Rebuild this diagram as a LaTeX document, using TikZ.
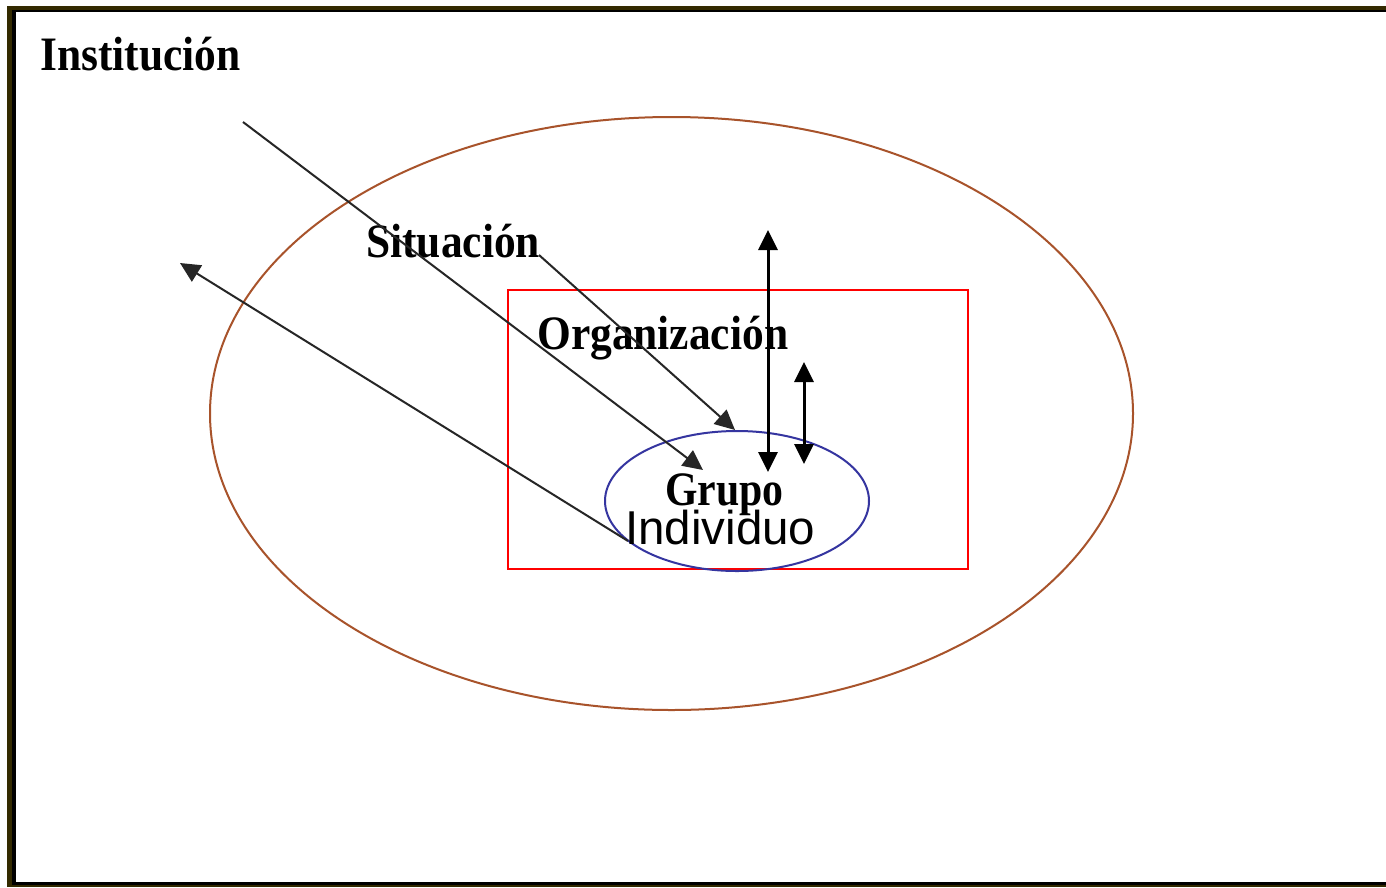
\documentclass[tikz,border=0pt]{standalone}
\usepackage{fontspec}
\setmainfont{Liberation Serif}
\newfontfamily\labsans{Liberation Sans}
\usetikzlibrary{arrows.meta,shapes.geometric}
\definecolor{frameolive}{HTML}{332A00}
\definecolor{ellbrown}{HTML}{A8532B}
\definecolor{ellblue}{HTML}{3535A0}
\newcommand{\narrowtxt}[1]{\scalebox{0.905}[1]{#1}}
\tikzset{
  serlab/.style={anchor=base west, inner sep=0pt, font=\fontsize{48}{54}\selectfont\bfseries},
  thinarrow/.style={draw=black!85, line width=2pt, -{Triangle[length=20pt,width=19pt]}},
  vertarrow/.style={draw=black, line width=3pt, {Triangle[length=20pt,width=19pt]}-{Triangle[length=20pt,width=19pt]}}
}
\begin{document}
\begin{tikzpicture}[x=1pt,y=-1pt]
\useasboundingbox (0,0) rectangle (1386,887);
\begin{scope}
\clip (0,0) rectangle (1386,887);
\fill[white] (0,0) rectangle (1386,887);
\fill[frameolive] (7,6) rectangle (1400,887);
\fill[black] (12,10) rectangle (1400,885);
\fill[white] (16,12) rectangle (1400,882);
\end{scope}
% shapes
\node[draw=ellbrown, line width=2pt, ellipse, minimum width=923pt, minimum height=593pt, inner sep=0pt] (inst) at (671.5,413.5) {};
\node[draw=red, line width=2pt, rectangle, minimum width=460pt, minimum height=279pt, inner sep=0pt] (org) at (738,429.5) {};
\node[draw=ellblue, line width=2pt, ellipse, minimum width=264pt, minimum height=140pt, inner sep=0pt] (grp) at (737,501) {};
% labels
\node[serlab] (tinst) at (40,70) {\narrowtxt{Institución}};
\node[serlab] (tsit) at (366,257) {\narrowtxt{Situación}};
\node[serlab] (torg) at (537,349) {\narrowtxt{Organización}};
\node[serlab] (tgrp) at (665,505) {\scalebox{0.87}[1]{Grupo}};
\node[anchor=base west, inner sep=0pt, font=\labsans\fontsize{47.5}{53}\selectfont] (tind) at (625,544) {Individuo};
% connector endpoints
\coordinate (a1s) at (243,122);
\coordinate (a1e) at (703,470);
\coordinate (a2s) at (539,255);
\coordinate (a2e) at (735,430);
\coordinate (a3s) at (628,541);
\coordinate (a3e) at (180,263);
\coordinate (v1t) at (768,230);
\coordinate (v1b) at (768,472);
\coordinate (v2t) at (804,362);
\coordinate (v2b) at (804,464);
\draw[thinarrow] (a1s) -- (a1e);
\draw[thinarrow] (a2s) -- (a2e);
\draw[thinarrow] (a3s) -- (a3e);
\draw[vertarrow] (v1t) -- (v1b);
\draw[vertarrow] (v2t) -- (v2b);
\end{tikzpicture}
\end{document}
